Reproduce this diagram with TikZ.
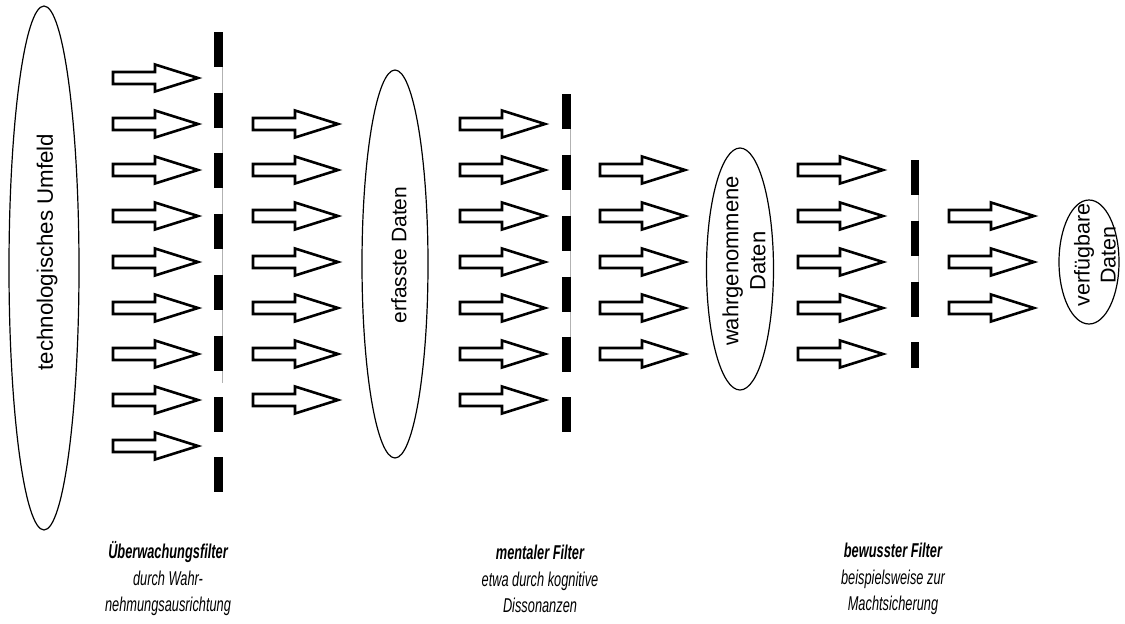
\documentclass[tikz,border=0pt]{standalone}
\usepackage{fontspec}
\setmainfont{Liberation Sans}
\newfontfamily\narrowfont[FakeStretch=0.64]{Liberation Sans}
\usetikzlibrary{shapes.geometric}
\tikzset{
  ell/.style={ellipse, draw, line width=1.2pt, inner sep=0pt},
  rottext/.style={rotate=90, align=center, inner sep=0pt, font=\fontsize{21}{26}\selectfont},
  arrowline/.style={draw, line width=2.6pt, fill=white, line join=miter},
  blockarrow/.pic={\path[arrowline] (0,-6)--(42,-6)--(42,-13.5)--(85,0)--(42,13.5)--(42,6)--(0,6)--cycle;},
  barfill/.style={fill=black},
  greyline/.style={draw=black!30, line width=1pt},
  caption/.style={align=center, inner sep=0pt, font=\narrowfont\fontsize{20}{26.5}\selectfont\itshape}
}
\begin{document}
\begin{tikzpicture}[x=1pt,y=-1pt]
\useasboundingbox (0,0) rectangle (1125,624);
% ellipses
\node[ell, minimum width=70, minimum height=524] (e1) at (44,268) {};
\node[rottext, font=\fontsize{22.3}{26}\selectfont] (t1) at (47,252) {technologisches Umfeld};
\node[ell, minimum width=66, minimum height=388] (e2) at (395,264) {};
\node[rottext] (t2) at (399,255) {erfasste Daten};
\node[ell, minimum width=67, minimum height=242] (e3) at (740,269) {};
\node[rottext, font=\fontsize{22}{27}\selectfont] (t3) at (744,261) {wahrgenommene\\Daten};
\node[ell, minimum width=60, minimum height=124] (e4) at (1089,262) {};
\node[rottext, font=\fontsize{21.5}{26}\selectfont] (t4) at (1095,255) {verfügbare\\Daten};
% arrows
\foreach \y in {78,124,...,446} \pic at (113,\y) {blockarrow};
\foreach \y in {124,170,...,400} \pic at (253,\y) {blockarrow};
\foreach \y in {124,170,...,400} \pic at (460,\y) {blockarrow};
\foreach \y in {170,216,...,354} \pic at (600,\y) {blockarrow};
\foreach \y in {170,216,...,354} \pic at (798,\y) {blockarrow};
\foreach \y in {216,262,308} \pic at (949,\y) {blockarrow};
% filter 1
\draw[greyline] (222.5,32) -- (222.5,383);
\foreach \y in {32,93,153,214,275,336,397,457} \fill[barfill] (214,\y) rectangle (223,\y+35);
% filter 2
\draw[greyline] (570.5,94) -- (570.5,337);
\foreach \y in {94,155,216,277,337,397} \fill[barfill] (562,\y) rectangle (571,\y+35);
% filter 3
\draw[greyline] (918.5,160) -- (918.5,282);
\foreach \y in {160,221,282} \fill[barfill] (911,\y) rectangle (919,\y+35);
\fill[barfill] (911,342) rectangle (919,368);
% captions
\node[caption] (c1) at (168,579) {\textbf{Überwachungsfilter}\\durch Wahr-\\nehmungsausrichtung};
\node[caption] (c2) at (540,579) {\textbf{mentaler Filter}\\etwa durch kognitive\\Dissonanzen};
\node[caption] (c3) at (893,579) {\textbf{bewusster Filter}\\beispielsweise zur\\Machtsicherung};
\end{tikzpicture}
\end{document}
